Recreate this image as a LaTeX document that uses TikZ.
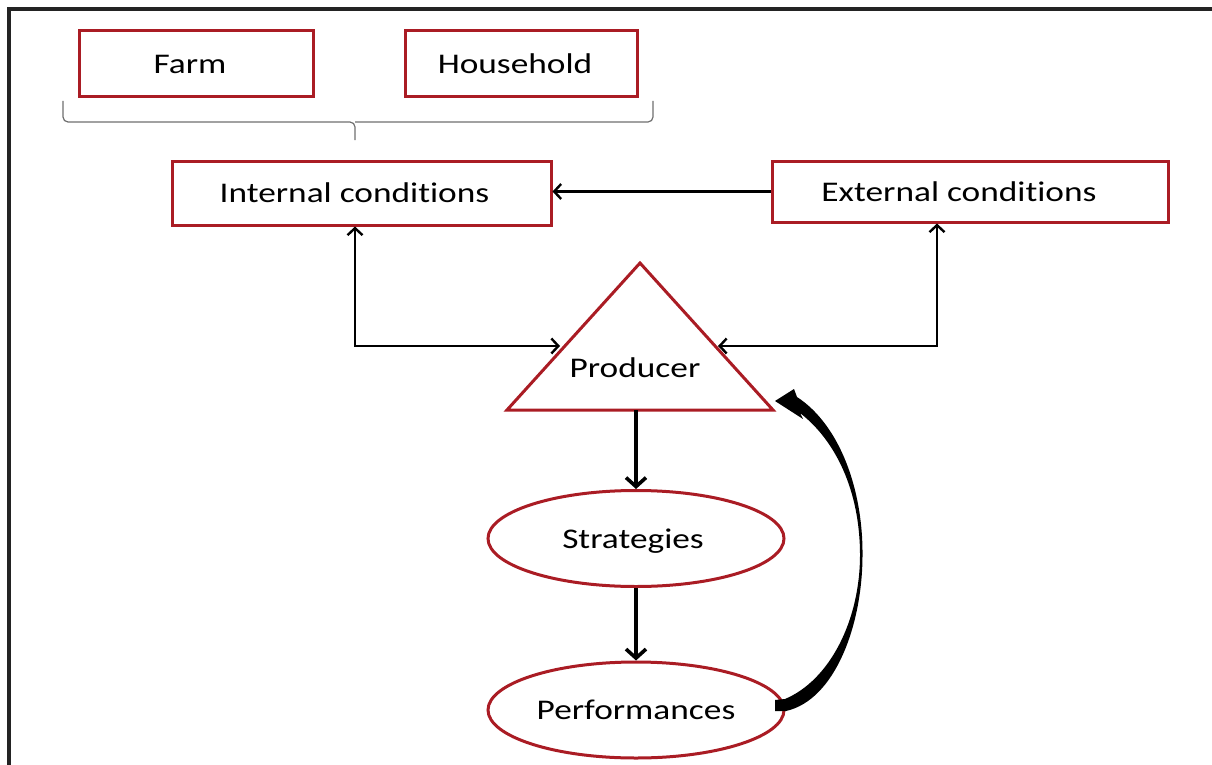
\documentclass[tikz,border=0pt]{standalone}
\usepackage{fontspec}
\setmainfont{Carlito}[FakeStretch=1.24,Ligatures={NoCommon}]
\usetikzlibrary{arrows.meta,shapes.geometric}
\definecolor{boxred}{RGB}{170,28,36}
\definecolor{framegray}{RGB}{35,35,35}
\definecolor{bracegray}{RGB}{110,110,110}
\newcommand{\txtleft}[1]{\hspace*{-#1pt}}
\begin{document}
\begin{tikzpicture}[x=1pt,y=-1pt,
  lbl/.style={font=\fontsize{28.5}{32}\selectfont,text=black,text height=19pt,text depth=0pt},
  box/.style={lbl,draw=boxred,line width=3pt,rectangle,inner sep=0pt},
  oval/.style={lbl,draw=boxred,line width=3pt,ellipse,inner sep=0pt,
    minimum width=296,minimum height=96},
  barb/.tip={Straight Barb[length=7pt,width=15pt,line width=2.4pt]},
  conn/.style={line width=2.6pt,-barb},
  dconn/.style={line width=2.6pt,barb-barb},
  heavy/.style={line width=3.6pt,-{Straight Barb[length=9pt,width=20pt,line width=3.6pt]}}
]
\useasboundingbox (0,0) rectangle (1212,765);

% outer frame
\draw[framegray,line width=3.4pt] (9,766) -- (9,9) -- (1213,9);

% top boxes and brace
\node[box,minimum width=234,minimum height=66] (farm) at (196,64) {\txtleft{12}Farm};
\node[box,minimum width=232,minimum height=66] (house) at (521,64) {\txtleft{12}Household};
\draw[bracegray,line width=1.2pt,rounded corners=5pt]
  (63,101) -- (63,122) -- (355,122) -- (355,140);
\draw[bracegray,line width=1.2pt,rounded corners=5pt]
  (653,101) -- (653,122) -- (355,122);

% condition boxes
\node[box,minimum width=379,minimum height=64] (int) at (361.5,193) {\txtleft{14}Internal conditions};
\node[box,minimum width=396,minimum height=61] (ext) at (970,191.5) {\txtleft{22}External conditions};

% producer triangle
\coordinate (apex) at (640,263);
\coordinate (bl) at (507,410);
\coordinate (br) at (773,410);
\draw[boxred,line width=3pt,line join=miter] (apex) -- (br) -- (bl) -- cycle;
\node[lbl] (prod) at (635,368) {Producer};
\coordinate (pbase) at (636,410);
\coordinate (pl) at (560,346);
\coordinate (pr) at (718,346);
\coordinate (jl) at (355,346);
\coordinate (jr) at (937,346);

% strategies and performances
\node[oval] (strat) at (636,538.5) {\txtleft{6}Strategies};
\node[oval] (perf) at (636,710) {Performances};

% connectors
\draw[conn] (ext.west) -- (ext.west -| int.east);
\draw[dconn] (int.south -| jl) -- (jl) -- (pl);
\draw[dconn] (ext.south -| jr) -- (jr) -- (pr);
\draw[heavy] (pbase) -- (strat.north);
\draw[heavy] (strat.south) -- (perf.north);

% tapered feedback arrow from performances back to producer
\fill[black] (775,700) -- (785,699)
  .. controls (830,680) and (860,620) .. (860,555)
  .. controls (860,490) and (835,440) .. (800,413)
  -- (803,419) -- (775,401) -- (794,389) -- (797,397)
  .. controls (840,425) and (863,490) .. (862.5,555)
  .. controls (862.5,625) and (835,700) .. (786,711)
  -- (775,711) -- cycle;
\end{tikzpicture}
\end{document}
